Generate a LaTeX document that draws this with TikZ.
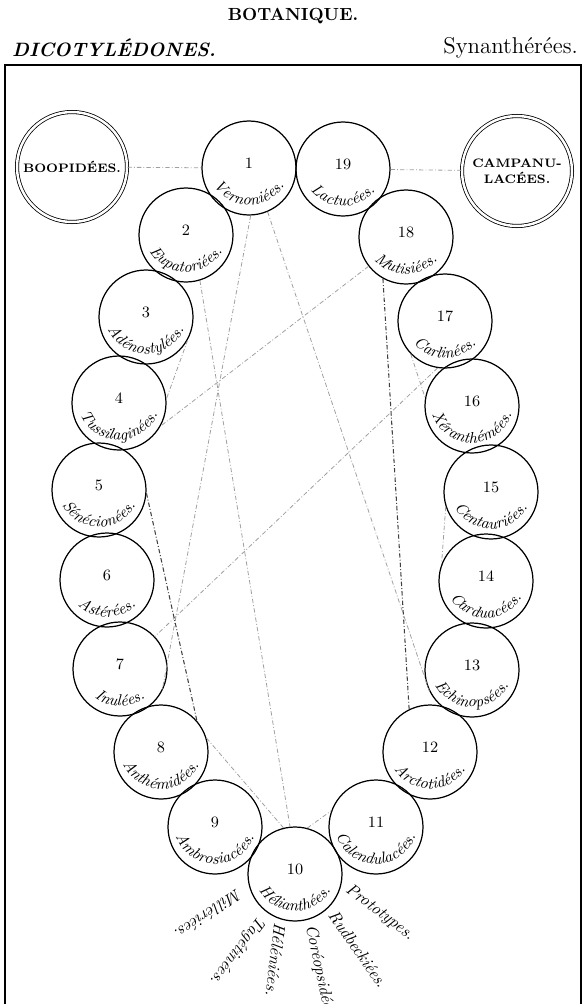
\documentclass[tikz,border=0pt]{standalone}
\usepackage{fontspec}
\usetikzlibrary{decorations.text}

\begin{document}
\begin{tikzpicture}[x=0.02cm, y=0.02cm,
    tribu/.style={draw, circle, line width=0.7pt, minimum size=1.88cm, inner sep=0pt},
    famille/.style={draw, circle, double, line width=0.45pt, double distance=1.4pt, minimum size=2.2cm, inner sep=0pt, align=center, font=\fontsize{7}{9}\selectfont\bfseries\addfontfeatures{LetterSpace=8}},
    num/.style={yshift=0.1cm, font=\fontsize{9}{10}\selectfont},
    nom/.style={decorate, decoration={text along path, text align=center, text={|\itshape\fontsize{9}{11}\selectfont|#1}}},
    rayon/.style={anchor=west, inner sep=0pt, font=\itshape\fontsize{9.5}{10}\selectfont},
    lien/.style={gray!75, line width=0.45pt, dash pattern=on 2.5pt off 1.2pt on 0.5pt off 1.2pt},
    lien fort/.style={lien, black!75, line width=0.6pt}
]
\useasboundingbox (0,0) rectangle (585,-1004);

% en-tete
\node[font=\fontsize{10}{12}\selectfont\bfseries\addfontfeatures{LetterSpace=3}] (bota) at (293,-16) {BOTANIQUE.};
\node[anchor=west, font=\fontsize{11}{13}\selectfont\bfseries\itshape\addfontfeatures{LetterSpace=8}] (dico) at (6,-48) {DICOTYLÉDONES.};
\node[anchor=east, font=\fontsize{13}{15}\selectfont\addfontfeatures{LetterSpace=4}] (syn) at (584,-48) {Synanthérées.};
\draw[line width=0.8pt] (5,-1010) -- (5,-65) -- (581,-65) -- (581,-1010);

% familles voisines
\node[famille] (boop) at (72,-167) {BOOPIDÉES.};
\node[famille] (camp) at (517,-171) {CAMPANU-\\LACÉES.};

% tribus
\node[tribu, label={[num]center:1}] (n1) at (249,-168) {};
\node[tribu, label={[num]center:2}] (n2) at (186,-235) {};
\node[tribu, label={[num]center:3}] (n3) at (146,-317) {};
\node[tribu, label={[num]center:4}] (n4) at (119,-403) {};
\node[tribu, label={[num]center:5}] (n5) at (99,-490) {};
\node[tribu, label={[num]center:6}] (n6) at (107,-580) {};
\node[tribu, label={[num]center:7}] (n7) at (120,-669) {};
\node[tribu, label={[num]center:8}] (n8) at (161,-752) {};
\node[tribu, label={[num]center:9}] (n9) at (215,-827) {};
\node[tribu, label={[num]center:10}] (n10) at (295,-874) {};
\node[tribu, label={[num]center:11}] (n11) at (376,-827) {};
\node[tribu, label={[num]center:12}] (n12) at (430,-752) {};
\node[tribu, label={[num]center:13}] (n13) at (472,-670) {};
\node[tribu, label={[num]center:14}] (n14) at (486,-581) {};
\node[tribu, label={[num]center:15}] (n15) at (491,-492) {};
\node[tribu, label={[num]center:16}] (n16) at (472,-406) {};
\node[tribu, label={[num]center:17}] (n17) at (445,-321) {};
\node[tribu, label={[num]center:18}] (n18) at (406,-237) {};
\node[tribu, label={[num]center:19}] (n19) at (343,-169) {};

% noms courbes
\path[nom={Vernoniées.}] (n1.center) ++(0,5) ++(196:42) arc[start angle=196, end angle=344, radius=42];
\path[nom={Eupatoriées.}] (n2.center) ++(0,5) ++(196:42) arc[start angle=196, end angle=344, radius=42];
\path[nom={Adénostylées.}] (n3.center) ++(0,5) ++(196:42) arc[start angle=196, end angle=344, radius=42];
\path[nom={Tussilaginées.}] (n4.center) ++(0,5) ++(196:42) arc[start angle=196, end angle=344, radius=42];
\path[nom={Sénécionées.}] (n5.center) ++(0,5) ++(196:42) arc[start angle=196, end angle=344, radius=42];
\path[nom={Astérées.}] (n6.center) ++(0,5) ++(196:42) arc[start angle=196, end angle=344, radius=42];
\path[nom={Inulées.}] (n7.center) ++(0,5) ++(196:42) arc[start angle=196, end angle=344, radius=42];
\path[nom={Anthémidées.}] (n8.center) ++(0,5) ++(196:42) arc[start angle=196, end angle=344, radius=42];
\path[nom={Ambrosiacées.}] (n9.center) ++(0,5) ++(196:42) arc[start angle=196, end angle=344, radius=42];
\path[nom={Hélianthées.}] (n10.center) ++(0,5) ++(196:42) arc[start angle=196, end angle=344, radius=42];
\path[nom={Calendulacées.}] (n11.center) ++(0,5) ++(196:42) arc[start angle=196, end angle=344, radius=42];
\path[nom={Arctotidées.}] (n12.center) ++(0,5) ++(196:42) arc[start angle=196, end angle=344, radius=42];
\path[nom={Echinopsées.}] (n13.center) ++(0,5) ++(196:42) arc[start angle=196, end angle=344, radius=42];
\path[nom={Carduacées.}] (n14.center) ++(0,5) ++(196:42) arc[start angle=196, end angle=344, radius=42];
\path[nom={Centauriées.}] (n15.center) ++(0,5) ++(196:42) arc[start angle=196, end angle=344, radius=42];
\path[nom={Xéranthémées.}] (n16.center) ++(0,5) ++(196:42) arc[start angle=196, end angle=344, radius=42];
\path[nom={Carlinées.}] (n17.center) ++(0,5) ++(196:42) arc[start angle=196, end angle=344, radius=42];
\path[nom={Mutisiées.}] (n18.center) ++(0,5) ++(196:42) arc[start angle=196, end angle=344, radius=42];
\path[nom={Lactucées.}] (n19.center) ++(0,5) ++(196:42) arc[start angle=196, end angle=344, radius=42];

% sous-tribus des Helianthees
\node[rayon, rotate=214] (mill) at (240,-893) {Millériées.};
\node[rayon, rotate=233] (tage) at (262,-918) {Tagétinées.};
\node[rayon, rotate=263] (hele) at (280,-923) {Héléniées.};
\node[rayon, rotate=282] (core) at (310,-925) {Coréopsidées.};
\node[rayon, rotate=305] (rudb) at (332,-912) {Rudbeckiées.};
\node[rayon, rotate=323] (prot) at (347,-888) {Prototypes.};

% affinites
\draw[lien] (boop) -- (n1);
\draw[lien] (n19) -- (camp);
\draw[lien] (n1.-88) -- (n7.-28);
\draw[lien] (n1.-67) -- (n13.206);
\draw[lien] (n2.-73) -- (n10.96);
\draw[lien] (n3.-29) -- (n4.5);
\draw[lien] (n18.218) -- (n4.-29);
\draw[lien fort] (n18.241) -- (n12.116);
\draw[lien] (n17.224) -- (n16.170);
\draw[lien] (n17.261) -- (n7.43);
\draw[lien] (n15.198) -- (n14.159);
\draw[lien fort] (n5.-4) -- (n8.41);
\draw[lien] (n8.17) -- (n10.104);
\draw[lien] (n10.75) -- (n11.160);
\end{tikzpicture}
\end{document}
